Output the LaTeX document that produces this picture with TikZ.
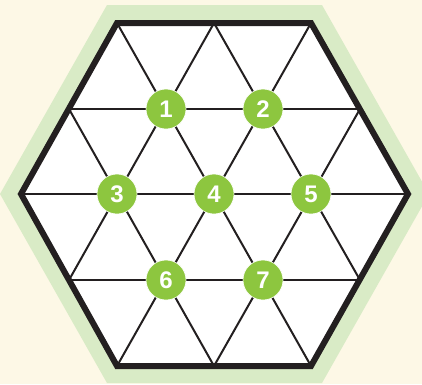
\documentclass[tikz,border=0pt]{standalone}
\usepackage{fontspec}
\setsansfont{Liberation Sans}
\usepackage{xcolor}
\usetikzlibrary{positioning}

\definecolor{cream}{HTML}{FDF8E6}
\definecolor{palegreen}{HTML}{D9EBC6}
\definecolor{leafgreen}{HTML}{8DC63F}
\definecolor{inkblack}{HTML}{231F20}

\begin{document}
\begin{tikzpicture}[
    x=1pt,y=-1pt,
    spot/.style={circle,fill=leafgreen,draw=white,line width=0.6pt,minimum size=40pt,inner sep=0pt,text=white,font=\sffamily\bfseries\fontsize{24}{24}\selectfont},
    gridline/.style={draw=inkblack,line width=2pt},
    rim/.style={draw=inkblack,line width=6pt,line join=miter},
  ]
    \clip (0,0) rectangle (422,384);
    \fill[cream] (0,0) rectangle (422,384);
    \fill[palegreen] (0,194) -- (107,5) -- (322,5) -- (429,194) -- (322,383) -- (107,383) -- cycle;

    \coordinate (t1) at (117,23);
    \coordinate (t2) at (214,23);
    \coordinate (t3) at (311,23);
    \coordinate (u1) at (69,109);
    \coordinate (u2) at (166,109);
    \coordinate (u3) at (263,109);
    \coordinate (u4) at (360,109);
    \coordinate (m1) at (21,194);
    \coordinate (m2) at (117,194);
    \coordinate (m3) at (214,194);
    \coordinate (m4) at (311,194);
    \coordinate (m5) at (408,194);
    \coordinate (l1) at (69,280);
    \coordinate (l2) at (166,280);
    \coordinate (l3) at (263,280);
    \coordinate (l4) at (360,280);
    \coordinate (b1) at (117,366);
    \coordinate (b2) at (214,366);
    \coordinate (b3) at (311,366);

    \fill[white] (m1) -- (t1) -- (t3) -- (m5) -- (b3) -- (b1) -- cycle;

    \draw[gridline] (u1) -- (u4);
    \draw[gridline] (m1) -- (m5);
    \draw[gridline] (l1) -- (l4);
    \draw[gridline] (u1) -- (b2);
    \draw[gridline] (t1) -- (b3);
    \draw[gridline] (t2) -- (l4);
    \draw[gridline] (t3) -- (b1);
    \draw[gridline] (t2) -- (l1);
    \draw[gridline] (u4) -- (b2);

    \draw[rim] (m1) -- (t1) -- (t3) -- (m5) -- (b3) -- (b1) -- cycle;

    \node[spot] (s1) at (u2) {1};
    \node[spot] (s2) at (u3) {2};
    \node[spot] (s3) at (m2) {3};
    \node[spot] (s4) at (m3) {4};
    \node[spot] (s5) at (m4) {5};
    \node[spot] (s6) at (l2) {6};
    \node[spot] (s7) at (l3) {7};
  \end{tikzpicture}
\end{document}
